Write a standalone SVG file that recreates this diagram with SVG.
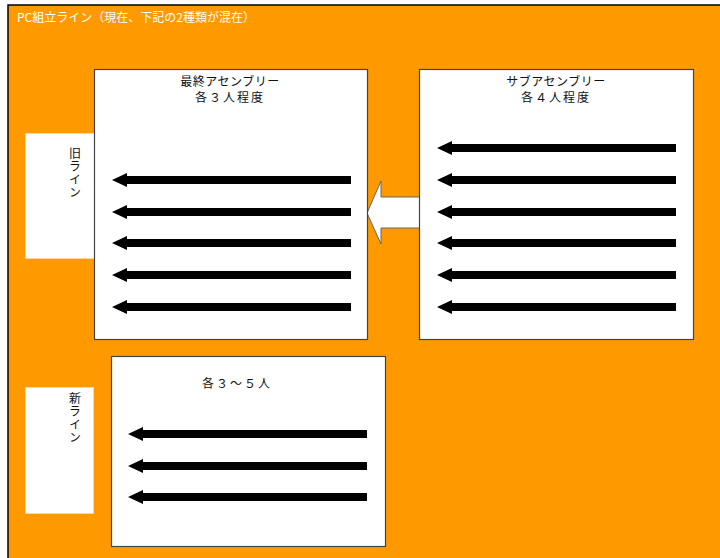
<svg xmlns="http://www.w3.org/2000/svg" width="720" height="558" viewBox="0 0 720 558">
<style>
.lbl{fill:#fff;stroke:#ffd7a0;stroke-width:1}
.box{fill:#fff;stroke:#444;stroke-width:1.2}
.t{font-family:"Noto Sans CJK JP","Liberation Sans",sans-serif;font-size:12px;fill:#111}
.v{writing-mode:vertical-rl;letter-spacing:1px}
.arr{fill:#000}
</style>
<defs>
<path id="a1" d="M0 0 L15 -7 L15 -4 L239 -4 L239 4 L15 4 L15 7 Z" class="arr"/>
</defs>
<rect x="8" y="5" width="720" height="560" fill="#ff9900" stroke="#000" stroke-width="1.5"/>
<text x="17" y="22" font-family="'Noto Sans CJK JP','Liberation Sans',sans-serif" font-size="12" fill="#fff">PC組立ライン（現在、下記の2種類が混在）</text>

<g id="old-line-label">
<rect class="lbl" x="25.5" y="133.5" width="70" height="125"/>
<text class="t v" x="75" y="147">旧ライン</text>
</g>
<g id="new-line-label">
<rect class="lbl" x="25.5" y="387.5" width="68" height="126"/>
<text class="t v" x="75" y="392">新ライン</text>
</g>

<g id="connectors">
<path d="M367 213 L381 181 L381 197 L420 197 L420 228 L381 228 L381 244 Z" fill="#fff" stroke="#666" stroke-width="1"/>
</g>

<g id="final-assembly">
<rect class="box" x="94.5" y="69.5" width="273" height="270"/>
<text class="t" x="230" y="86" text-anchor="middle" letter-spacing="0.5">最終アセンブリー</text>
<text class="t" x="230" y="102" text-anchor="middle" letter-spacing="2">各３人程度</text>
</g>

<g id="sub-assembly">
<rect class="box" x="419.5" y="69.5" width="274" height="270"/>
<text class="t" x="556" y="86" text-anchor="middle" letter-spacing="0.5">サブアセンブリー</text>
<text class="t" x="556" y="102" text-anchor="middle" letter-spacing="2">各４人程度</text>
</g>

<g id="new-line">
<rect class="box" x="111.5" y="356.5" width="274" height="190"/>
<text class="t" x="202" y="388" letter-spacing="2">各３～５人</text>
</g>

<g id="flow-arrows">
<use href="#a1" x="112" y="180"/>
<use href="#a1" x="112" y="212"/>
<use href="#a1" x="112" y="243"/>
<use href="#a1" x="112" y="275"/>
<use href="#a1" x="112" y="307"/>
<use href="#a1" x="437" y="148"/>
<use href="#a1" x="437" y="180"/>
<use href="#a1" x="437" y="212"/>
<use href="#a1" x="437" y="243"/>
<use href="#a1" x="437" y="275"/>
<use href="#a1" x="437" y="307"/>
<use href="#a1" x="128" y="434"/>
<use href="#a1" x="128" y="466"/>
<use href="#a1" x="128" y="497"/>
</g>
</svg>
